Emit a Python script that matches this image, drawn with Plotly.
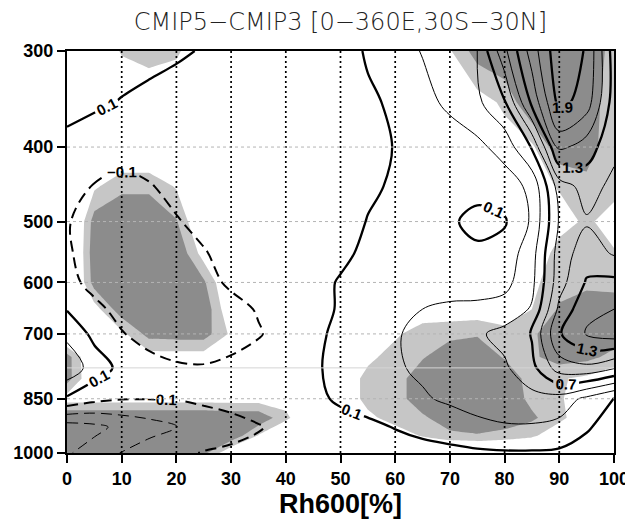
import plotly.graph_objects as go

# ---------------- data ----------------
rh = [0, 5, 10, 15, 20, 25, 30, 35, 40, 45, 50, 55, 60, 65, 70, 75, 80, 85, 90, 95, 100]
plev = [300, 350, 400, 450, 500, 550, 600, 650, 700, 775, 850, 925, 1000]

# CMIP5 - CMIP3 difference, one row per pressure level (x = rh)
d300 = [0.25, 0.22, 0.18, 0.15, 0.12, 0.09, 0.06, 0.03, 0.00, -0.02, -0.02, 0.13, 0.22, 0.31, 0.40, 0.50, 1.05, 1.60, 2.05, 1.88, 1.20]
d350 = [0.16, 0.13, 0.09, 0.06, 0.04, 0.02, 0.00, -0.01, -0.02, -0.03, -0.03, 0.06, 0.14, 0.24, 0.34, 0.46, 0.68, 1.35, 1.97, 1.80, 1.20]
d400 = [0.05, 0.00, -0.04, -0.03, -0.01, 0.00, 0.00, -0.01, -0.03, -0.04, -0.05, 0.02, 0.11, 0.16, 0.20, 0.25, 0.38, 0.72, 1.55, 1.40, 1.15]
d450 = [-0.02, -0.11, -0.14, -0.11, -0.06, -0.03, -0.01, -0.01, -0.02, -0.03, -0.04, 0.06, 0.13, 0.15, 0.16, 0.17, 0.20, 0.35, 1.00, 1.18, 1.05]
d500 = [-0.09, -0.16, -0.20, -0.17, -0.11, -0.06, -0.03, -0.01, -0.01, -0.02, -0.01, 0.11, 0.14, 0.13, 0.13, 0.04, 0.08, 0.33, 0.92, 1.08, 1.00]
d550 = [-0.08, -0.17, -0.22, -0.22, -0.17, -0.11, -0.05, -0.02, -0.01, 0.00, 0.05, 0.15, 0.17, 0.16, 0.15, 0.14, 0.18, 0.42, 1.00, 1.20, 1.08]
d600 = [-0.05, -0.15, -0.22, -0.24, -0.21, -0.14, -0.08, -0.03, 0.00, 0.02, 0.12, 0.18, 0.20, 0.20, 0.20, 0.20, 0.24, 0.45, 1.02, 1.32, 1.35]
d650 = [0.09, -0.06, -0.15, -0.20, -0.22, -0.19, -0.14, -0.09, -0.03, 0.03, 0.12, 0.20, 0.24, 0.30, 0.34, 0.35, 0.38, 0.52, 1.15, 1.45, 1.50]
d700 = [0.25, 0.05, -0.09, -0.16, -0.19, -0.18, -0.15, -0.11, -0.05, 0.06, 0.14, 0.22, 0.28, 0.36, 0.42, 0.47, 0.56, 0.72, 1.28, 1.52, 1.60]
d775 = [0.45, 0.20, 0.05, -0.04, -0.08, -0.09, -0.07, -0.04, -0.01, 0.06, 0.18, 0.24, 0.28, 0.33, 0.38, 0.42, 0.47, 0.64, 1.00, 1.05, 0.92]
d850 = [0.07, -0.04, -0.09, -0.095, -0.09, -0.06, -0.04, -0.02, 0.00, 0.04, 0.14, 0.20, 0.24, 0.28, 0.33, 0.38, 0.42, 0.44, 0.42, 0.25, 0.08]
d925 = [-0.60, -0.55, -0.45, -0.38, -0.31, -0.22, -0.16, -0.11, -0.06, -0.03, 0.00, 0.05, 0.11, 0.16, 0.20, 0.25, 0.28, 0.28, 0.24, 0.12, 0.02]
d1000 = [-0.52, -0.42, -0.29, -0.20, -0.14, -0.09, -0.07, -0.06, -0.07, -0.08, -0.05, -0.03, 0.00, 0.03, 0.05, 0.07, 0.08, 0.08, 0.07, 0.03, 0.00]

# significance shading index (0 none, 1 light, 2 dark), one row per level
sig_plev = [300, 350, 400, 450, 500, 550, 600, 650, 700, 750, 800, 850, 900, 950, 1000]
s300 = [0, 0, 0.55, 0.75, 0.6, 0, 0, 0, 0, 0, 0, 0, 0, 0, 0.4, 2.0, 2.5, 2.5, 2.5, 2.5, 1.0]
s350 = [0, 0, 0, 0, 0, 0, 0, 0, 0, 0, 0, 0, 0, 0, 0, 0, 0.7, 2.5, 2.5, 2.2, 0.8]
s400 = [0, 0, -1, -1, 0, 0, 0, 0, 0, 0, 0, 0, 0, 0, 0, 0, 0, 0.3, 2.2, 2.0, 0.8]
s450 = [0, 0.3, 1.3, 1.3, 0.4, 0, 0, 0, 0, 0, 0, 0, 0, 0, 0, 0, 0, 0, 0.6, 1.2, 0.9]
s500 = [-2, 2.0, 2.2, 2.2, 1.6, -1, 0, 0, 0, 0, 0, 0, 0, 0, 0, 0, 0, 0, 0, 0.7, 0]
s550 = [-2, 2.2, 2.5, 2.5, 2.5, 0, 0, 0, 0, 0, 0, 0, 0, 0, 0, 0, 0, -0.5, 1.0, 1.0, 0.6]
s600 = [-2, 2.0, 2.5, 2.5, 2.5, 1.7, -1, 0, 0, 0, 0, 0, 0, 0, 0, 0, 0, 0.2, 1.2, 1.2, 1.2]
s650 = [-1, 0, 2.2, 2.5, 2.5, 2.3, -0.5, 0, 0, 0, 0, 0, -0.5, -0.3, -0.2, -0.2, -0.5, 0.5, 1.6, 2.2, 2.0]
s700 = [-1.5, 0, 0.2, 1.9, 2.0, 2.0, 0.3, 0, 0, 0, 0, -0.5, 0.3, 1.1, 1.2, 1.4, 1.0, 1.3, 2.3, 2.3, 2.1]
s750 = [2.0, -1, 0, 0, 0, 0, 0, 0, 0, 0, -0.5, 0.2, 1.0, 1.4, 2.2, 2.2, 1.4, 1.3, 2.0, 1.8, 1.2]
s800 = [2.0, -0.8, 0, 0, 0, 0, 0, 0, 0, 0, -0.5, 0.9, 1.0, 2.2, 2.5, 2.5, 2.3, 1.0, 0.6, 0.3, -0.3]
s850 = [0, 0, 0, 0, 0, 0, 0, 0, 0, 0, -0.5, 0.9, 1.0, 2.2, 2.5, 2.5, 2.3, 1.2, 0.6, 0, -0.3]
s900 = [2.5, 2.5, 2.5, 2.5, 2.5, 2.5, 2.3, 2.3, 0.8, -1, -0.5, 0.2, 1.0, 1.3, 2.2, 2.3, 2.2, 1.7, 0.8, -0.3, -0.3]
s950 = [2.5, 2.5, 2.5, 2.5, 2.5, 2.5, 2.3, 0.4, -1, 0, 0, -0.5, -0.2, 0.6, 1.2, 1.4, 1.1, 0.7, -0.3, 0, 0]
s1000 = [2.5, 2.5, 2.5, 2.5, 2.5, 1.8, -0.5, 0, 0, 0, 0, -1.5, -1.5, -1.5, -1.5, -1.5, -1.5, -1.5, -0.5, 0, 0]

x_ticks = [0, 10, 20, 30, 40, 50, 60, 70, 80, 90, 100]
y_ticks = [300, 400, 500, 600, 700, 850, 1000]
y_extra_grid = [775]

diff = [d300, d350, d400, d450, d500, d550, d600, d650, d700, d775, d850, d925, d1000]
sig = [s300, s350, s400, s450, s500, s550, s600, s650, s700, s750, s800, s850, s900, s950, s1000]

LIGHT = '#c6c6c6'
DARK = '#8c8c8c'
TFONT = 'DejaVu Sans'
BFONT = 'Liberation Sans'

# page body has an 8px margin: figure is sized to fit the window exactly
PAGE = 8
W, H = 633 - PAGE, 526 - PAGE

fig = go.Figure()

# shading
fig.add_trace(go.Contour(
    x=rh, y=sig_plev, z=sig,
    autocontour=False,
    contours=dict(start=0.5, end=1.5, size=1, coloring='fill', showlines=False),
    colorscale=[[0, 'rgba(255,255,255,0)'], [0.25, 'rgba(255,255,255,0)'],
                [0.25, LIGHT], [0.75, LIGHT], [0.75, DARK], [1, DARK]],
    line=dict(width=0, smoothing=0),
    showscale=False, hoverinfo='skip'))

lab_font = dict(family=BFONT, size=15, color='black', weight='bold')


def add_lines(start, end, size, width, dash, labels):
    fig.add_trace(go.Contour(
        x=rh, y=plev, z=diff,
        autocontour=False,
        contours=dict(start=start, end=end + 1e-6, size=size, coloring='none',
                      showlabels=labels, labelfont=lab_font, labelformat='.1f'),
        line=dict(color='black', width=width, dash=dash, smoothing=1.0),
        showscale=False, hoverinfo='skip'))


add_lines(0.3, 1.5, 0.6, 1.0, 'solid', False)
add_lines(0.5, 1.7, 0.6, 1.0, 'solid', False)
add_lines(0.1, 1.9, 0.6, 2.3, 'solid', True)
add_lines(-0.5, -0.3, 0.2, 1.0, '11px,6px', False)
add_lines(-0.7, -0.1, 0.6, 2.0, '11px,6px', True)

# grid lines drawn above the shading
vx, vy = [], []
for xv in x_ticks[1:-1]:
    vx += [xv, xv, None]
    vy += [y_ticks[0], y_ticks[-1], None]
fig.add_trace(go.Scatter(x=vx, y=vy, mode='lines', hoverinfo='skip',
                         line=dict(color='black', width=1.7, dash='2px,3px')))
hx, hy = [], []
for yv in y_ticks[1:-1]:
    hx += [x_ticks[0], x_ticks[-1], None]
    hy += [yv, yv, None]
fig.add_trace(go.Scatter(x=hx, y=hy, mode='lines', hoverinfo='skip',
                         line=dict(color='#b4b4b4', width=1, dash='3px,3px')))
gx, gy = [], []
for yv in y_extra_grid:
    gx += [x_ticks[0], x_ticks[-1], None]
    gy += [yv, yv, None]
fig.add_trace(go.Scatter(x=gx, y=gy, mode='lines', hoverinfo='skip',
                         line=dict(color='#d4d4d4', width=1)))

tickfont = dict(family=BFONT, size=18, color='black', weight='bold')
fig.update_layout(
    width=W, height=H,
    margin=dict(l=67 - PAGE, r=19, t=51 - PAGE, b=73, autoexpand=False),
    paper_bgcolor='white', plot_bgcolor='white',
    showlegend=False,
    title=dict(text='CMIP5\u2212CMIP3 [0\u2212360E,30S\u221230N]',
               x=0.5, xref='paper', xanchor='center',
               y=1 - (22 - PAGE) / H, yref='container', yanchor='middle',
               font=dict(family=TFONT, size=24, color='#222222', weight=200)),
    xaxis=dict(range=[0, 100], tickvals=x_ticks, ticks='outside', ticklen=8,
               tickwidth=2, tickcolor='black', showline=True, linewidth=2,
               linecolor='black', mirror=True, showgrid=False, zeroline=False,
               automargin=False, tickfont=tickfont,
               title=dict(text='Rh600[%]', standoff=0,
                          font=dict(family=BFONT, size=27, color='black', weight='bold'))),
    yaxis=dict(type='log', range=[3, 2.4771212547], tickvals=y_ticks,
               ticktext=[str(v) for v in y_ticks], ticks='outside', ticklen=8,
               tickwidth=2, tickcolor='black', showline=True, linewidth=2,
               linecolor='black', mirror=True, showgrid=False, zeroline=False,
               automargin=False, tickfont=tickfont),
)

fig.write_html('out.html')
